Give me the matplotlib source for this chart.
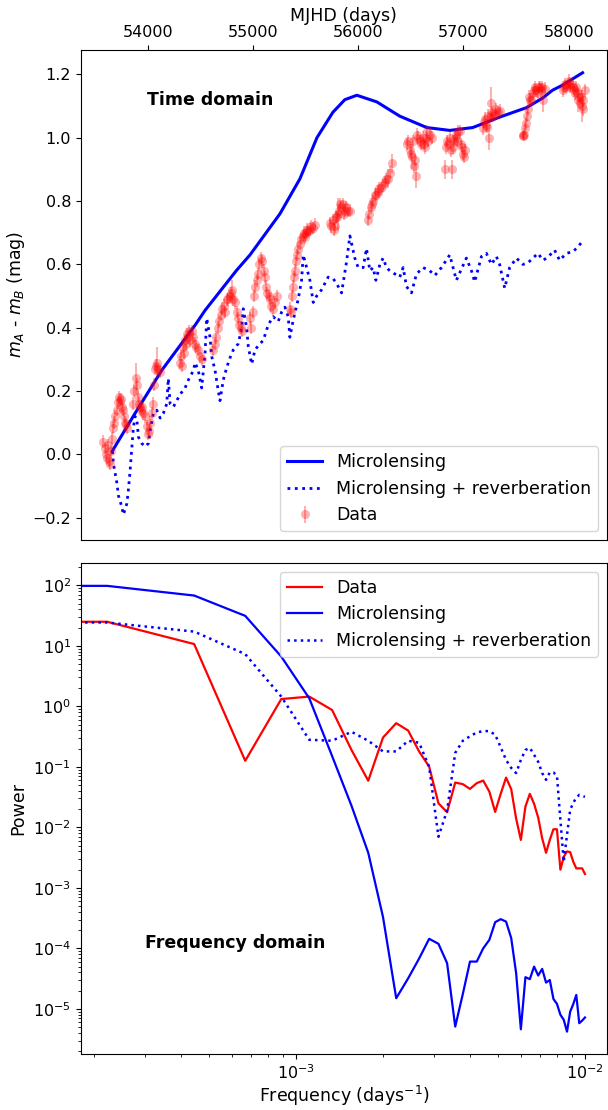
import numpy as np
import matplotlib
matplotlib.use('Agg')
import matplotlib.pyplot as plt
from matplotlib.ticker import NullFormatter

plt.rcParams['font.size'] = 12.5
plt.rcParams['xtick.labelsize'] = 11.5
plt.rcParams['ytick.labelsize'] = 11.5

# ---- time domain: observed A-B differences, one line per season
data_mjd = [
    53577, 53590, 53600, 53610, 53620, 53635, 53645, 53655, 53662, 53672, 53682, 53691,
    53705, 53719, 53730, 53740, 53748, 53758, 53767, 53777, 53786, 53795, 53805,
    53861, 53872, 53885, 53899, 53909, 53920, 53928, 53940, 53947, 53960, 53975, 53990,
    54004, 54012, 54023, 54037, 54051, 54060, 54070, 54080, 54089, 54100, 54118,
    54308, 54318, 54326, 54336, 54345, 54352, 54364, 54375, 54383, 54395, 54405, 54421,
    54435, 54450, 54462, 54478, 54495, 54516,
    54621, 54635, 54650, 54665, 54680, 54695, 54710, 54725, 54735, 54750, 54763, 54778,
    54790, 54801, 54815, 54829, 54845, 54858, 54870, 54885, 54896,
    54972, 54985, 55000, 55010, 55019, 55035, 55048, 55060, 55075, 55090, 55105, 55114,
    55125, 55133, 55148, 55162, 55175, 55190, 55209, 55228,
    55351, 55362, 55370, 55380, 55390, 55399, 55410, 55418, 55430, 55446, 55460, 55475,
    55485, 55494, 55505, 55513, 55525, 55541, 55555, 55570, 55589,
    55731, 55745, 55759, 55770, 55778, 55790, 55797, 55807, 55818, 55826, 55840, 55854,
    55865, 55873, 55885, 55900, 55921,
    56092, 56105, 56118, 56130, 56145, 56158, 56170, 56185, 56200, 56215, 56234, 56250,
    56265, 56281, 56300, 56319,
    56462, 56475, 56490, 56500, 56510, 56519, 56530, 56538, 56548, 56557, 56570, 56585,
    56600, 56614, 56625, 56633, 56645, 56652, 56665, 56680, 56699,
    56822, 56835, 56841, 56855, 56870, 56880, 56889, 56898, 56910, 56917, 56928, 56936,
    56950, 56965, 56975, 56985, 56993, 57005, 57012,
    57183, 57195, 57202, 57215, 57221, 57235, 57240, 57249, 57260, 57268, 57280, 57297,
    57310, 57325, 57344,
    57563, 57568, 57575, 57582, 57595, 57601, 57610, 57620, 57629, 57640, 57657, 57670,
    57676, 57690, 57705, 57715, 57724, 57735, 57743, 57755, 57771,
    57942, 57955, 57961, 57975, 57990, 58000, 58009, 58020, 58037, 58050, 58056, 58068,
    58075, 58085, 58095, 58104, 58115, 58123, 58132, 58140, 58151,
]
data_dmag = [
    0.04, 0.02, 0.00, -0.01, 0.03, -0.02, -0.03, 0.01, 0.05, 0.085, 0.10, 0.12,
    0.14, 0.165, 0.18, 0.17, 0.175, 0.15, 0.14, 0.12, 0.10, 0.095, 0.085,
    0.16, 0.20, 0.24, 0.22, 0.18, 0.16, 0.15, 0.14, 0.15, 0.13, 0.12, 0.09,
    0.065, 0.075, 0.10, 0.13, 0.16, 0.22, 0.27, 0.28, 0.29, 0.27, 0.26,
    0.29, 0.31, 0.28, 0.34, 0.32, 0.36, 0.35, 0.38, 0.37, 0.39, 0.36, 0.39,
    0.37, 0.35, 0.34, 0.33, 0.31, 0.30,
    0.33, 0.35, 0.37, 0.40, 0.42, 0.44, 0.46, 0.47, 0.45, 0.49, 0.49, 0.50,
    0.51, 0.52, 0.49, 0.48, 0.45, 0.43, 0.41, 0.40, 0.39,
    0.43, 0.40, 0.45, 0.50, 0.53, 0.55, 0.57, 0.60, 0.62, 0.61, 0.58, 0.56,
    0.53, 0.51, 0.50, 0.49, 0.47, 0.46, 0.48, 0.50,
    0.46, 0.45, 0.50, 0.53, 0.56, 0.58, 0.61, 0.63, 0.65, 0.665, 0.68, 0.69,
    0.70, 0.685, 0.70, 0.71, 0.705, 0.71, 0.72, 0.715, 0.725,
    0.73, 0.72, 0.74, 0.71, 0.72, 0.75, 0.75, 0.76, 0.77, 0.79, 0.78, 0.79,
    0.76, 0.77, 0.78, 0.77, 0.77,
    0.74, 0.76, 0.78, 0.79, 0.80, 0.82, 0.82, 0.83, 0.84, 0.84, 0.85, 0.86,
    0.87, 0.87, 0.89, 0.92,
    0.98, 0.99, 0.96, 0.95, 0.94, 0.99, 0.91, 0.93, 0.88, 1.01, 1.00, 0.99,
    0.98, 1.00, 0.98, 0.97, 1.00, 1.02, 0.99, 1.01, 1.00,
    0.90, 0.97, 0.99, 0.98, 1.00, 0.96, 0.90, 0.97, 0.99, 1.00, 1.01, 0.99,
    1.02, 1.02, 0.98, 0.97, 0.95, 0.94, 0.96,
    1.03, 1.05, 1.06, 1.04, 1.035, 1.07, 1.00, 1.065, 1.11, 1.08, 1.07, 1.076,
    1.09, 1.08, 1.085,
    1.005, 1.01, 1.01, 1.03, 1.045, 1.07, 1.09, 1.13, 1.12, 1.12, 1.14, 1.15,
    1.16, 1.15, 1.14, 1.16, 1.16, 1.15, 1.16, 1.12, 1.155,
    1.15, 1.16, 1.17, 1.16, 1.17, 1.18, 1.16, 1.17, 1.16, 1.15, 1.14, 1.16,
    1.145, 1.12, 1.13, 1.11, 1.13, 1.10, 1.09, 1.12, 1.15,
]
data_err = [
    .02, .02, .02, .02, .02, .02, .02, .02, .02, .02, .02, .02,
    .02, .02, .02, .02, .02, .02, .02, .02, .02, .02, .02,
    .02, .02, .05, .02, .02, .02, .02, .02, .02, .02, .02, .02,
    .02, .02, .02, .02, .02, .02, .02, .02, .05, .02, .02,
    .02, .02, .02, .02, .02, .02, .02, .02, .02, .02, .02, .02,
    .02, .02, .02, .02, .02, .02,
    .02, .02, .02, .02, .02, .02, .02, .02, .02, .02, .02, .02,
    .02, .03, .02, .02, .02, .02, .02, .02, .02,
    .02, .02, .02, .02, .02, .02, .02, .02, .02, .02, .02, .02,
    .02, .02, .02, .02, .02, .02, .02, .02,
    .02, .02, .02, .02, .02, .02, .02, .02, .02, .02, .02, .02,
    .02, .02, .02, .02, .02, .02, .02, .02, .02,
    .02, .02, .02, .02, .02, .02, .02, .05, .02, .02, .02, .02,
    .02, .02, .02, .02, .02,
    .02, .02, .02, .02, .02, .02, .02, .02, .02, .02, .02, .02,
    .02, .03, .02, .03,
    .02, .02, .02, .02, .04, .02, .02, .02, .04, .02, .02, .02,
    .02, .02, .02, .02, .02, .02, .02, .02, .02,
    .03, .02, .02, .02, .02, .02, .03, .02, .02, .02, .02, .02,
    .02, .02, .02, .02, .02, .02, .02,
    .02, .02, .02, .02, .02, .02, .04, .02, .05, .02, .02, .02,
    .02, .02, .02,
    .01, .01, .02, .02, .02, .02, .02, .02, .02, .02, .02, .02,
    .02, .02, .02, .02, .02, .02, .02, .04, .02,
    .02, .02, .02, .02, .02, .02, .02, .02, .02, .02, .02, .02,
    .02, .04, .02, .02, .02, .05, .02, .02, .02,
]

# microlensing model (smooth)
ml_mjd = [53662, 53880, 54134, 54450, 54545, 54846, 54972, 55257, 55446, 55608,
          55759, 55873, 55987, 56177, 56395, 56652, 56870, 57088, 57344, 57600,
          57752, 57847, 57942, 58132]
ml_dmag = [0.01, 0.13, 0.266, 0.408, 0.455, 0.582, 0.63, 0.76, 0.87, 1.00,
           1.08, 1.12, 1.134, 1.113, 1.068, 1.032, 1.023, 1.032, 1.065, 1.095,
           1.125, 1.15, 1.166, 1.205]

# microlensing + reverberation model
mr_mjd = [53665, 53675, 53691, 53707, 53722, 53754, 53769, 53802, 53817, 53833,
          53849, 53864, 53880, 53897, 53912, 53944, 53975, 54007, 54023, 54054,
          54086, 54118, 54149, 54181, 54196, 54213, 54244, 54276, 54308, 54355,
          54386, 54434, 54450, 54481, 54513, 54545, 54561, 54592, 54608, 54640,
          54671, 54687, 54718, 54751, 54782, 54813, 54861, 54893, 54908, 54940,
          54956, 54988, 55019, 55067, 55098, 55146, 55193, 55240, 55273, 55304,
          55335, 55351, 55383, 55430, 55462, 55478, 55510, 55541, 55573, 55605,
          55652, 55715, 55762, 55795, 55842, 55890, 55921, 55968, 56000, 56047,
          56079, 56111, 56142, 56168, 56206, 56237, 56269, 56300, 56348, 56395,
          56427, 56459, 56506, 56554, 56617, 56680, 56728, 56791, 56870, 56933,
          57028, 57076, 57107, 57171, 57218, 57266, 57313, 57344, 57392, 57439,
          57503, 57565, 57613, 57708, 57756, 57803, 57866, 57914, 57977, 58040,
          58087, 58135]
mr_dmag = [0.01, -0.03, -0.06, -0.09, -0.13, -0.165, -0.19, -0.155, -0.11, -0.05,
           0.02, 0.085, 0.12, 0.11, 0.055, 0.035, 0.025, 0.035, 0.075, 0.13,
           0.14, 0.115, 0.13, 0.16, 0.24, 0.16, 0.15, 0.17, 0.19, 0.21,
           0.235, 0.265, 0.29, 0.265, 0.21, 0.32, 0.43, 0.37, 0.31, 0.265,
           0.20, 0.17, 0.235, 0.275, 0.305, 0.33, 0.35, 0.40, 0.46, 0.40,
           0.34, 0.285, 0.33, 0.35, 0.36, 0.41, 0.435, 0.42, 0.45, 0.465,
           0.435, 0.37, 0.425, 0.49, 0.55, 0.63, 0.59, 0.55, 0.48, 0.50,
           0.52, 0.56, 0.555, 0.54, 0.51, 0.61, 0.69, 0.62, 0.59, 0.59,
           0.65, 0.58, 0.59, 0.55, 0.60, 0.62, 0.59, 0.58, 0.57, 0.56,
           0.59, 0.53, 0.51, 0.57, 0.59, 0.58, 0.565, 0.59, 0.63, 0.55,
           0.62, 0.58, 0.545, 0.625, 0.635, 0.60, 0.625, 0.60, 0.525, 0.59,
           0.62, 0.60, 0.605, 0.635, 0.613, 0.623, 0.645, 0.613, 0.635, 0.64,
           0.655, 0.675]

# ---- frequency domain: power spectra (frequency in units of 1e-3 / day)
freq_milli = [0.0, 0.222, 0.444, 0.667, 0.889, 1.111, 1.333, 1.556, 1.778, 2.0,
              2.222, 2.444, 2.667, 2.889, 3.111, 3.333, 3.556, 3.778, 4.0, 4.222,
              4.444, 4.667, 4.889, 5.111, 5.333, 5.556, 5.778, 6.0, 6.222, 6.444,
              6.667, 6.889, 7.111, 7.333, 7.556, 7.778, 8.0, 8.222, 8.444, 8.667,
              8.889, 9.111, 9.333, 9.556, 9.778, 10.0]
pow_data = [25, 25, 10.7, 0.126, 1.32, 1.45, 0.87, 0.19, 0.059, 0.305,
            0.527, 0.398, 0.179, 0.101, 0.025, 0.0178, 0.055, 0.0518, 0.0432, 0.0538,
            0.0594, 0.039, 0.018, 0.036, 0.0665, 0.0428, 0.014, 0.0062, 0.022, 0.0358,
            0.0245, 0.0145, 0.0066, 0.0038, 0.0062, 0.0093, 0.0093, 0.002, 0.00325, 0.004,
            0.0039, 0.0027, 0.0021, 0.0021, 0.0021, 0.0017]
pow_ml = [98, 98, 67.8, 31.3, 6.65, 1.36, 0.151, 0.0227, 0.0038, 3.3e-4,
          1.5e-5, 3.2e-5, 6.8e-5, 1.44e-4, 1.19e-4, 5.7e-5, 5.1e-6, 1.76e-5, 6.05e-5, 6.05e-5,
          1.0e-4, 1.38e-4, 2.71e-4, 3.04e-4, 2.77e-4, 1.48e-4, 3.9e-5, 4.6e-6, 3.34e-5, 3.1e-5,
          5.0e-5, 3.56e-5, 4.58e-5, 2.72e-5, 3.0e-5, 1.46e-5, 1.21e-5, 8.0e-6, 6.6e-6, 4.2e-6,
          9.0e-6, 1.2e-5, 1.7e-5, 5.8e-6, 6.4e-6, 7.2e-6]
pow_mr = [24.3, 24.3, 17.2, 7.3, 1.45, 0.28, 0.27, 0.38, 0.27, 0.18,
          0.18, 0.27, 0.25, 0.10, 0.0070, 0.019, 0.17, 0.27, 0.32, 0.37,
          0.39, 0.39, 0.34, 0.21, 0.13, 0.096, 0.079, 0.13, 0.19, 0.206,
          0.158, 0.121, 0.079, 0.061, 0.081, 0.081, 0.071, 0.0133, 0.0027, 0.0075,
          0.0195, 0.0254, 0.031, 0.0344, 0.033, 0.032]

freq = np.array(freq_milli) * 1e-3

fig = plt.figure(figsize=(6.08, 11.10), dpi=100)
ax1 = fig.add_axes([0.133, 0.5135, 0.865, 0.4415])
ax2 = fig.add_axes([0.133, 0.0505, 0.865, 0.4423])

# top panel
ax1.plot(ml_mjd, ml_dmag, color='blue', lw=2.2, label='Microlensing')
ax1.plot(mr_mjd, mr_dmag, color='blue', ls=':', lw=2, label='Microlensing + reverberation')
ax1.errorbar(data_mjd, data_dmag, yerr=data_err, fmt='o', color='red', ms=6.5,
             mew=0, alpha=0.3, label='Data')
ax1.xaxis.tick_top()
ax1.xaxis.set_label_position('top')
ax1.set_xlabel('MJHD (days)', labelpad=3)
ax1.set_ylabel('$m_A$ - $m_B$ (mag)')
ax1.set_xlim(53365, 58362)
ax1.set_ylim(-0.27, 1.277)
ax1.set_yticks([-0.2, 0.0, 0.2, 0.4, 0.6, 0.8, 1.0, 1.2])
ax1.text(0.125, 0.898, 'Time domain', transform=ax1.transAxes,
         fontweight='bold', va='center')
ax1.legend(loc='lower right')

# bottom panel
ax2.loglog(freq, pow_data, color='red', lw=1.6, label='Data')
ax2.loglog(freq, pow_ml, color='blue', lw=1.6, label='Microlensing')
ax2.loglog(freq, pow_mr, color='blue', ls=':', lw=1.8, label='Microlensing + reverberation')
ax2.set_xlim(1.8e-4, 1.19e-2)
ax2.set_ylim(1.8e-6, 234)
ax2.xaxis.set_minor_formatter(NullFormatter())
ax2.yaxis.set_minor_formatter(NullFormatter())
ax2.set_xlabel('Frequency (days$^{-1}$)', labelpad=1)
ax2.set_ylabel('Power')
ax2.text(0.122, 0.226, 'Frequency domain', transform=ax2.transAxes,
         fontweight='bold', va='center')
ax2.legend(loc='upper right')

fig.savefig('out.png', dpi=100)
